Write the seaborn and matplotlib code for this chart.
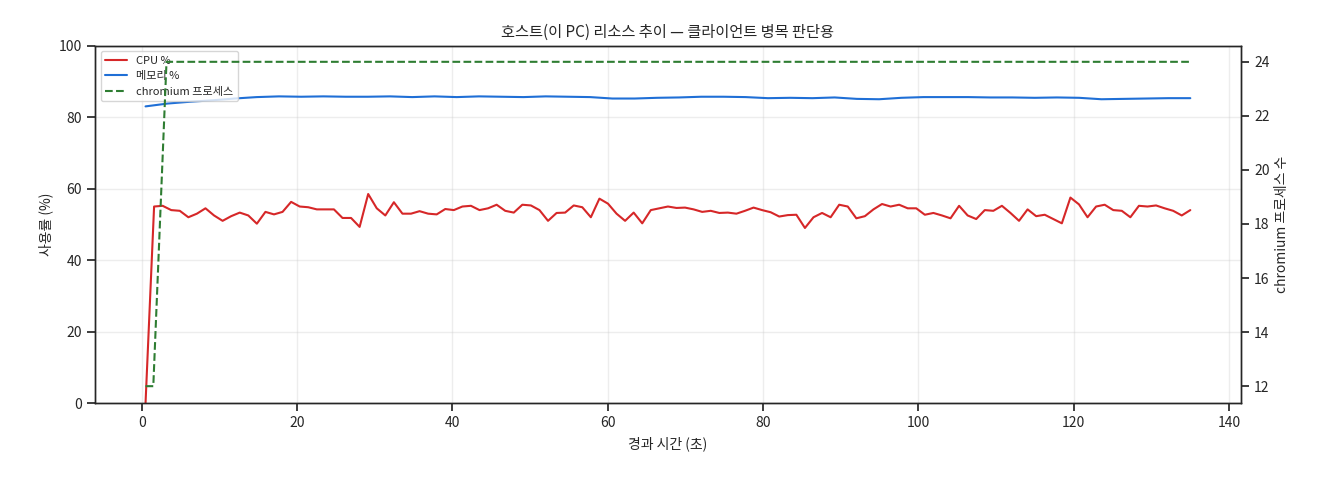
import numpy as np
import matplotlib
matplotlib.use("Agg")
import matplotlib.pyplot as plt
import seaborn as sns

cpu = [0, 55, 55.2, 54, 53.8, 52, 53, 54.5, 52.5, 51, 52.3, 53.3, 52.5, 50.2, 53.5, 52.8, 53.5, 56.3, 55, 54.8,
       54.2, 54.2, 54.2, 51.8, 51.8, 49.3, 58.5, 54.5, 52.5, 56.2, 53, 53, 53.7, 53, 52.8, 54.3, 54, 55, 55.2, 54,
       54.5, 55.5, 53.8, 53.3, 55.5, 55.3, 54, 51, 53.2, 53.3, 55.3, 54.8, 52, 57.2, 55.8, 53, 51, 53.3, 50.3, 54,
       54.5, 55, 54.6, 54.7, 54.2, 53.5, 53.8, 53.2, 53.3, 53, 53.8, 54.7, 54, 53.4, 52.2, 52.6, 52.7, 49, 52, 53.2,
       52, 55.5, 55, 51.7, 52.3, 54.2, 55.7, 55, 55.5, 54.5, 54.5, 52.7, 53.2, 52.5, 51.7, 55.2, 52.5, 51.5, 54, 53.8,
       55.2, 53.2, 51, 54.2, 52.3, 52.7, 51.5, 50.3, 57.5, 55.6, 52, 55, 55.5, 54, 53.8, 52, 55.2, 55, 55.3, 54.5,
       53.8, 52.5, 54]
mem = [83, 83.8, 84.3, 84.7, 85.2, 85.6, 85.8, 85.7, 85.8, 85.7, 85.7, 85.8, 85.6, 85.8, 85.6, 85.8, 85.7, 85.6,
       85.8, 85.7, 85.6, 85.2, 85.2, 85.4, 85.5, 85.7, 85.7, 85.6, 85.3, 85.4, 85.3, 85.5, 85.1, 85.0, 85.4, 85.6,
       85.6, 85.6, 85.5, 85.5, 85.4, 85.5, 85.4, 85.0, 85.1, 85.2, 85.3, 85.3]
proc_t = [0.5, 1.5, 3.2, 135]
proc = [12, 12, 24, 24]

t_cpu = np.linspace(0.5, 135, len(cpu))
t_mem = np.linspace(0.5, 135, len(mem))

sns.set_theme(style="ticks")
plt.rcParams['font.family'] = ['Noto Sans CJK KR', 'DejaVu Sans']
plt.rcParams['axes.labelsize'] = 10
plt.rcParams['xtick.labelsize'] = 10
plt.rcParams['ytick.labelsize'] = 10
plt.rcParams['axes.titlesize'] = 11
plt.rcParams['axes.linewidth'] = 1.0

fig, ax = plt.subplots(figsize=(13.2, 4.8), dpi=100)
sns.lineplot(x=t_cpu, y=cpu, ax=ax, color="#d62728", lw=1.5, label="CPU %")
sns.lineplot(x=t_mem, y=mem, ax=ax, color="#1f6fd6", lw=1.5, label="메모리 %")
ax2 = ax.twinx()
sns.lineplot(x=proc_t, y=proc, ax=ax2, color="#2e7d32", lw=1.5, ls="--", label="chromium 프로세스")
ax.set_ylim(0, 100)
ax.set_xlim(-6, 141.5)
ax2.set_ylim(11.37, 24.6)
ax.grid(True, alpha=0.35)
ax.set_xlabel("경과 시간 (초)")
ax.set_ylabel("사용률 (%)")
ax2.set_ylabel("chromium 프로세스 수")
ax.set_title("호스트(이 PC) 리소스 추이 — 클라이언트 병목 판단용")
h1, l1 = ax.get_legend_handles_labels()
h2, l2 = ax2.get_legend_handles_labels()
ax2.get_legend().remove()
ax.legend(h1 + h2, l1 + l2, loc="upper left", fontsize=8)
fig.subplots_adjust(left=0.072, right=0.94, top=0.905, bottom=0.16)
fig.savefig("out.png")
